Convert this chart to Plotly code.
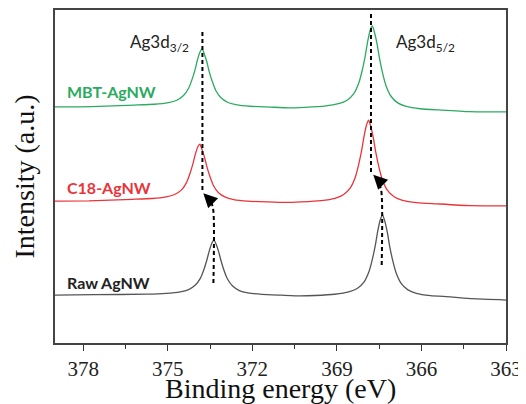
import plotly.graph_objects as go

# ---- data ----
raw_be = [379.0, 377.6,
          375.76, 375.06, 374.56, 374.26, 374.02, 373.84, 373.72, 373.61, 373.53, 373.44, 373.36,
          373.28, 373.19, 373.11, 373.0, 372.88, 372.7, 372.46, 372.16, 371.66, 370.96,
          370.3,
          369.78, 369.08, 368.58, 368.28, 368.04, 367.86, 367.74, 367.63, 367.55, 367.46, 367.38,
          367.3, 367.21, 367.13, 367.02, 366.9, 366.72, 366.48, 366.18, 365.68, 364.98,
          364.2, 363.0]
raw_int = [14.4, 14.5,
           14.65, 14.9, 15.36, 16.05, 17.4, 19.5, 22.0, 25.0, 27.6, 29.9, 30.9,
           29.6, 27.3, 24.7, 21.7, 19.2, 17.1, 15.75, 15.06, 14.6, 14.35,
           14.15,
           14.27, 14.64, 15.33, 16.36, 18.3, 21.5, 25.2, 29.6, 33.6, 37.0, 38.5,
           36.6, 33.2, 29.2, 24.8, 21.1, 17.9, 15.96, 14.93, 14.24, 13.87,
           13.3, 12.9]

c18_be = [379.0, 377.8,
          376.26, 375.56, 375.06, 374.76, 374.52, 374.34, 374.22, 374.11, 374.03, 373.94, 373.86,
          373.78, 373.69, 373.61, 373.5, 373.38, 373.2, 372.96, 372.66, 372.16, 371.46,
          370.8,
          370.27, 369.57, 369.07, 368.77, 368.53, 368.35, 368.23, 368.12, 368.04, 367.95, 367.87,
          367.79, 367.7, 367.62, 367.51, 367.39, 367.21, 366.97, 366.67, 366.17, 365.47,
          364.3, 363.0]
c18_int = [42.6, 42.7,
           43.15, 43.4, 43.9, 44.6, 45.9, 48.1, 50.7, 53.7, 56.4, 58.8, 59.7,
           58.0, 55.6, 52.9, 49.9, 47.3, 45.1, 43.8, 43.08, 42.6, 42.35,
           42.2,
           42.37, 42.75, 43.44, 44.5, 46.5, 49.7, 53.5, 57.9, 61.9, 65.4, 66.9,
           64.8, 61.3, 57.3, 52.9, 49.1, 45.9, 43.9, 42.84, 42.15, 41.8,
           41.25, 41.2]

mbt_be = [379.0, 377.7,
          376.18, 375.48, 374.98, 374.68, 374.44, 374.26, 374.14, 374.03, 373.95, 373.86, 373.78,
          373.7, 373.61, 373.53, 373.42, 373.3, 373.12, 372.88, 372.58, 372.08, 371.38,
          370.7,
          370.14, 369.44, 368.94, 368.64, 368.4, 368.22, 368.1, 367.99, 367.91, 367.82, 367.74,
          367.66, 367.57, 367.49, 367.38, 367.26, 367.08, 366.84, 366.54, 366.04, 365.34,
          364.3, 363.0]
mbt_int = [70.9, 71.0,
           71.45, 71.7, 72.2, 72.9, 74.3, 76.5, 79.1, 82.1, 84.9, 87.3, 88.3,
           86.7, 84.3, 81.5, 78.5, 75.9, 73.7, 72.3, 71.6, 71.1, 70.85,
           70.6,
           70.78, 71.15, 71.85, 72.9, 74.9, 78.15, 81.9, 86.4, 90.4, 93.9, 95.2,
           93.1, 89.6, 85.6, 81.1, 77.35, 74.1, 72.1, 71.05, 70.35, 69.98,
           69.5, 69.4]

series_names = ["Raw AgNW", "C18-AgNW", "MBT-AgNW"]
x_ticks = [378, 375, 372, 369, 366, 363]

GRAY = "rgb(85,85,85)"
RED = "rgb(234,52,58)"
GREEN = "rgb(44,170,98)"

fig = go.Figure()
for be, it, col, name in [(raw_be, raw_int, GRAY, series_names[0]),
                          (c18_be, c18_int, RED, series_names[1]),
                          (mbt_be, mbt_int, GREEN, series_names[2])]:
    fig.add_trace(go.Scatter(x=be, y=it, mode="lines", name=name,
                             line=dict(color=col, width=1.3, shape="spline", smoothing=0.5),
                             showlegend=False, hoverinfo="skip"))

dash = dict(color="black", width=2, dash="4px,3px")
# reference dashed lines at shifted peak positions
fig.add_trace(go.Scatter(x=[373.77, 373.77], y=[93.4, 45.9], mode="lines", line=dash,
                         showlegend=False, hoverinfo="skip"))
fig.add_trace(go.Scatter(x=[367.79, 367.79], y=[98.8, 51.0], mode="lines", line=dash,
                         showlegend=False, hoverinfo="skip"))
# shift guides from raw peaks
fig.add_trace(go.Scatter(x=[373.38, 373.38, 373.43, 373.52], y=[18.0, 39.5, 41.6, 42.7], mode="lines",
                         line=dict(color="black", width=2, dash="4px,3px", shape="spline"),
                         showlegend=False, hoverinfo="skip"))
fig.add_trace(go.Scatter(x=[367.41, 367.41, 367.46, 367.55], y=[23.4, 44.5, 46.9, 48.0], mode="lines",
                         line=dict(color="black", width=2, dash="4px,3px", shape="spline"),
                         showlegend=False, hoverinfo="skip"))

for tipx, tipy in [(373.74, 44.95), (367.71, 50.5)]:
    fig.add_annotation(x=tipx, y=tipy, ax=8, ay=8, text="", showarrow=True,
                       arrowhead=2, arrowsize=1.4, arrowwidth=2, arrowcolor="black")

label_font = "Lato, 'Open Sans', sans-serif"
fig.add_annotation(x=378.65, y=75.4, text="<b>MBT-AgNW</b>", showarrow=False, xanchor="left",
                   font=dict(family=label_font, size=16, color=GREEN))
fig.add_annotation(x=378.65, y=46.8, text="<b>C18-AgNW</b>", showarrow=False, xanchor="left",
                   font=dict(family=label_font, size=16, color=RED))
fig.add_annotation(x=378.65, y=18.3, text="<b>Raw AgNW</b>", showarrow=False, xanchor="left",
                   font=dict(family=label_font, size=16, color="#222"))
fig.add_annotation(x=375.28, y=90.0, text="Ag3d<sub>3/2</sub>", showarrow=False,
                   font=dict(family=label_font, size=17, color="#222"))
fig.add_annotation(x=365.87, y=90.0, text="Ag3d<sub>5/2</sub>", showarrow=False,
                   font=dict(family=label_font, size=17, color="#222"))

serif = "'Liberation Serif', 'Times New Roman', serif"
# axis titles
fig.add_annotation(xref="paper", yref="paper", x=0.5, y=-0.138, text="Binding energy (eV)",
                   showarrow=False, yanchor="middle",
                   font=dict(family=serif, size=28, color="#111"))
fig.add_annotation(xref="paper", yref="paper", x=-0.0687, y=0.5, text="Intensity (a.u.)",
                   showarrow=False, textangle=-90, xanchor="center", yanchor="middle",
                   font=dict(family=serif, size=28, color="#111"))

fig.update_xaxes(range=[379, 363], tickvals=x_ticks, ticks="outside", ticklen=6, tickwidth=1.3,
                 tickcolor="#333", showline=True, linecolor="#444", linewidth=1.5, mirror=True,
                 showgrid=False, zeroline=False, automargin=False,
                 minor=dict(dtick=1.5, tick0=363, ticks="outside", ticklen=4, tickwidth=1.2, tickcolor="#333"),
                 tickfont=dict(family=serif, size=21, color="#222"))
fig.update_yaxes(range=[0, 100], showticklabels=False, ticks="", showline=True, linecolor="#444",
                 linewidth=1.5, mirror=True, showgrid=False, zeroline=False, automargin=False)

# page body has an 8px margin; size the figure so the plot area lands where the reference has it
fig.update_layout(width=518, height=396, margin=dict(l=47, r=20, t=2, b=61),
                  paper_bgcolor="white", plot_bgcolor="white")
fig.write_html("out.html")
